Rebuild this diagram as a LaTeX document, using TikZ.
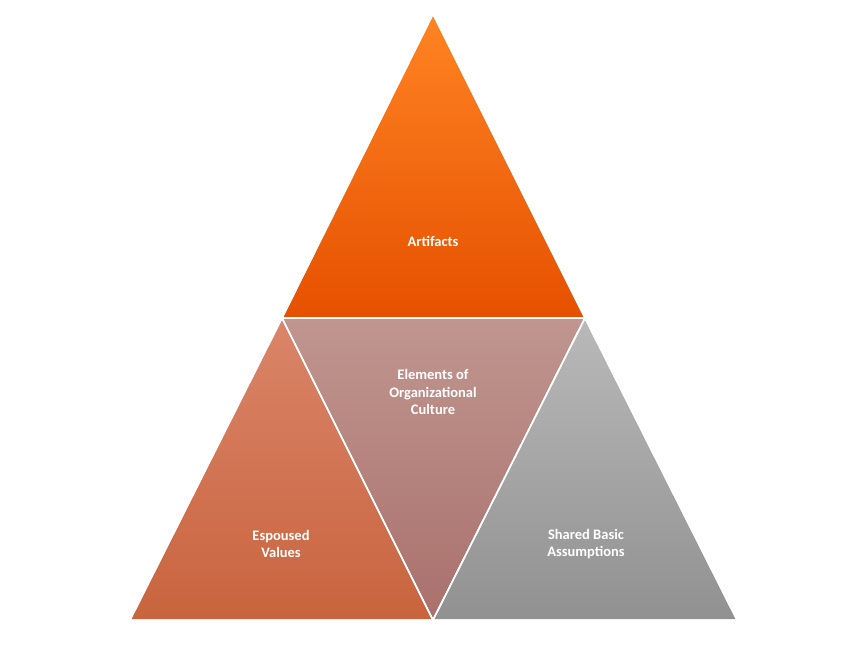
\documentclass[tikz,border=0pt]{standalone}
\usepackage{fontspec}
\setmainfont{Carlito}
\begin{document}
\begin{tikzpicture}[x=1pt,y=-1pt,
  tri/.style={draw=white,line width=1.5pt,line join=miter},
  lbl/.style={text=white,font=\bfseries\fontsize{14.5}{17.5}\selectfont,align=center}]
\useasboundingbox[fill=white] (0,0) rectangle (860,645);
\coordinate (A) at (433,14);
\coordinate (L) at (282,318);
\coordinate (R) at (585,318);
\coordinate (BL) at (130,620);
\coordinate (BM) at (433,620);
\coordinate (BR) at (737,620);
\shade[tri,top color=orange!85!white!90!red,bottom color=orange!70!red!90!black] (A)--(R)--(L)--cycle;
\shade[tri,top color={rgb,255:red,219;green,133;blue,105},bottom color={rgb,255:red,200;green,100;blue,62}] (L)--(BM)--(BL)--cycle;
\shade[tri,top color={rgb,255:red,192;green,150;blue,143},bottom color={rgb,255:red,170;green,112;blue,108}] (L)--(R)--(BM)--cycle;
\shade[tri,top color={rgb,255:red,185;green,185;blue,185},bottom color={rgb,255:red,145;green,145;blue,145}] (R)--(BR)--(BM)--cycle;
\draw[tri] (A)--(R)--(L)--cycle (L)--(BM)--(BL)--cycle (R)--(BR)--(BM)--cycle;
\node[lbl] (art) at (433,241) {Artifacts};
\node[lbl] (elm) at (433,392) {Elements of\\Organizational\\Culture};
\node[lbl] (esp) at (281,544) {Espoused\\Values};
\node[lbl] (sha) at (586,544) {Shared Basic\\Assumptions};
\end{tikzpicture}
\end{document}
